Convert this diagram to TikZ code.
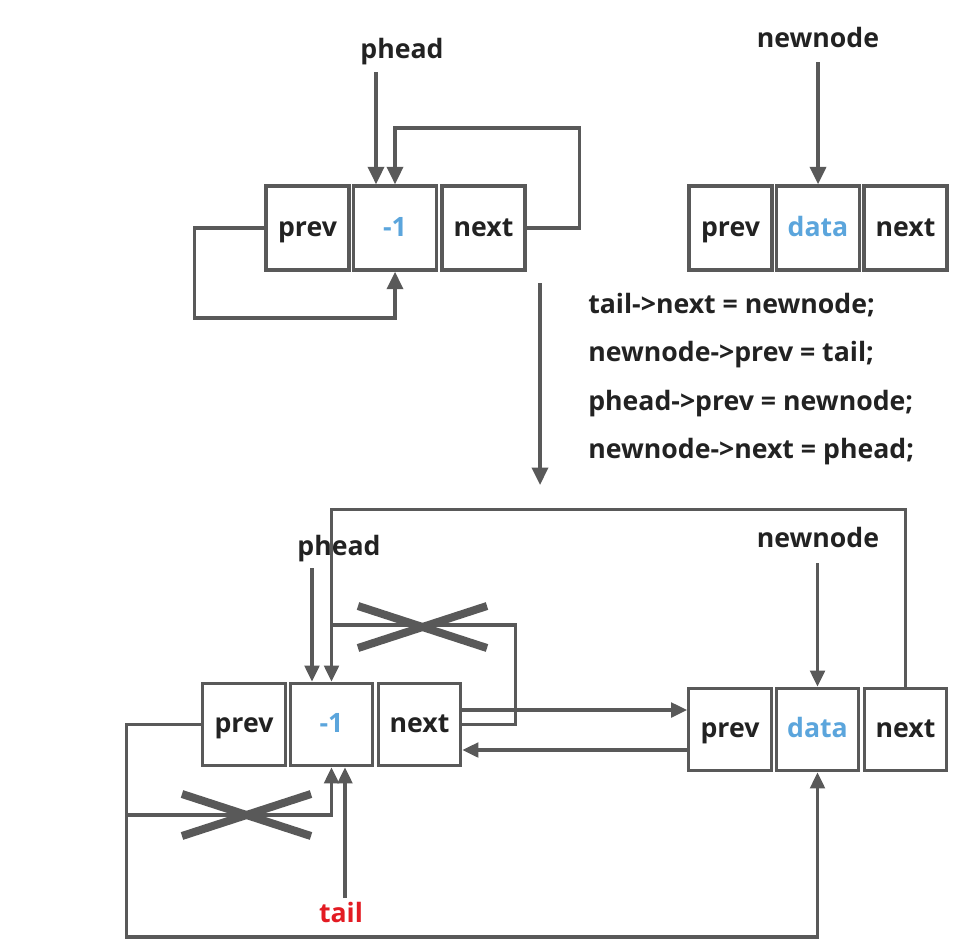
\documentclass[tikz,border=0pt]{standalone}
\usepackage{fontspec}
\setmainfont{Open Sans}
\usetikzlibrary{arrows.meta,calc}
\definecolor{lc}{HTML}{595959}
\definecolor{tc}{HTML}{222222}
\definecolor{bc}{HTML}{5BA5DC}
\definecolor{rc}{HTML}{E31B23}
\tikzset{
  cell/.style={draw=lc,line width=2.6pt,minimum width=62pt,minimum height=63pt,inner sep=0pt,font=\bfseries\fontsize{20}{24}\selectfont,text=tc,text height=12.4pt,text depth=0pt},
  cellb/.style={cell,line width=2.3pt,minimum height=62pt},
  lbl/.style={font=\bfseries\fontsize{20}{24}\selectfont,text=tc,inner sep=0pt,text height=11pt,text depth=0pt},
  code/.style={lbl,anchor=west},
  conn/.style={draw=lc,line width=2.6pt},
  connb/.style={draw=lc,line width=2.3pt},
  arr/.style={-{Triangle[length=13pt,width=12pt]}},
  arrb/.style={-{Triangle[length=12pt,width=11pt]}},
  xmark/.style={draw=lc,line width=6pt}
}
\begin{document}
\begin{tikzpicture}[x=0.75pt,y=-0.75pt]
\useasboundingbox (0,0) rectangle (953,950);
% ---------- top left ----------
\node[cell] (p1) at (307.5,228) {prev};
\node[cell,text=bc] (h1) at (395,228) {-1};
\node[cell] (n1) at (483.5,228) {next};
\node[lbl] (ph1) at (402,51) {phead};
\coordinate (a1) at (376,72);
\draw[conn,arr] (a1) -- (a1 |- h1.north);
\draw[conn,arr] (n1.east) -- ++(53,0) -- ++(0,-100) -| (h1.north);
\draw[conn,arr] (p1.west) -- ++(-70,0) -- ++(0,90) -| (h1.south);
% ---------- top right ----------
\node[cell] (p2) at (730.5,228) {prev};
\node[cell,text=bc] (d2) at (818,228) {data};
\node[cell] (n2) at (905.5,228) {next};
\node[lbl] (nn1) at (818,40) {newnode};
\coordinate (a2) at (818,62);
\draw[conn,arr] (a2) -- (d2.north);
% ---------- transition arrow ----------
\coordinate (s1) at (540,283);
\coordinate (s2) at (540,485);
\draw[conn,arr] (s1) -- (s2);
% ---------- code ----------
\node[code] (c1) at (588,306.5) {tail->next = newnode;};
\node[code] (c2) at (588,354) {newnode->prev = tail;};
\node[code] (c3) at (588,403.5) {phead->prev = newnode;};
\node[code] (c4) at (588,451.5) {newnode->next = phead;};
% ---------- bottom left ----------
\node[cellb] (p3) at (244,724.5) {prev};
\node[cellb,text=bc] (h3) at (331.5,724.5) {-1};
\node[cellb] (n3) at (419.5,724.5) {next};
% ---------- bottom right ----------
\node[cellb] (p4) at (730,729.5) {prev};
\node[cellb,text=bc] (d4) at (817.5,729.5) {data};
\node[cellb] (n4) at (905.5,729.5) {next};
% labels
\node[lbl] (ph2) at (339,548) {phead};
\node[lbl] (nn2) at (818,540) {newnode};
\node[lbl,text=rc] (tl) at (341,915) {tail};
% phead arrow
\coordinate (a3) at (312,568);
\draw[connb,arrb] (a3) -- (a3 |- h3.north);
% newnode arrow
\coordinate (a4) at (817.5,563);
\draw[connb,arrb] (a4) -- (d4.north);
% newnode->next = phead
\draw[connb,arrb] (n4.north) -- ++(0,-177.5) -| (h3.north);
% old tail->next = phead (crossed)
\coordinate (k1) at (331.5,625);
\draw[connb] (n3.east) -- ++(53,0) |- (k1);
\draw[xmark] (358,606) -- (487,648);
\draw[xmark] (358,648) -- (487,606);
% tail->next = newnode
\coordinate (t1) at ($(n3.east)+(0,-14.5)$);
\draw[connb,arrb] (t1) -- (t1 -| p4.west);
% newnode->prev = tail
\coordinate (t2) at ($(p4.west)+(0,20.5)$);
\draw[connb,arrb] (t2) -- (t2 -| n3.east);
% phead->prev = newnode
\draw[connb,arrb] (p3.west) -- ++(-75,0) -- ++(0,212.5) -| (d4.south);
% old phead->prev (crossed)
\coordinate (k2) at (127,815);
\draw[connb,arrb] (k2) -| (h3.south);
\draw[xmark] (182,794) -- (311,836);
\draw[xmark] (182,836) -- (311,794);
% tail arrow
\coordinate (a5) at (345,898);
\draw[connb,arrb] (a5) -- (a5 |- h3.south);
\end{tikzpicture}
\end{document}
